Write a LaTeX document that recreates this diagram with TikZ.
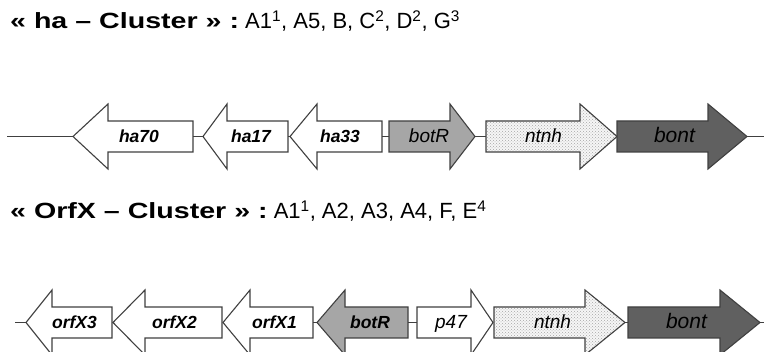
\documentclass[tikz,border=0pt]{standalone}
\usepackage{fontspec}
\setmainfont{Liberation Sans}
\usetikzlibrary{patterns}
\definecolor{outl}{RGB}{64,64,64}
\definecolor{botrgray}{RGB}{166,166,166}
\definecolor{bontgray}{RGB}{96,96,96}
\definecolor{ntnhbg}{RGB}{246,246,246}
\tikzset{
  gene/.style={draw=outl, line width=1.1pt, line join=miter},
  plaingene/.style={gene, fill=white},
  regulgene/.style={gene, fill=botrgray},
  toxingene/.style={gene, fill=bontgray},
  dotgene/.style={gene, preaction={fill=ntnhbg}, pattern=crosshatch dots, pattern color=gray!70},
  link/.style={draw=outl, line width=1.1pt},
  lab/.style={anchor=base, inner sep=0pt, font=\fontsize{19}{19}\selectfont\itshape},
  labb/.style={anchor=base, inner sep=0pt, font=\fontsize{17.5}{17.5}\selectfont\bfseries\itshape},
  labbig/.style={anchor=base, inner sep=0pt, font=\fontsize{21}{21}\selectfont\itshape},
  titletext/.style={anchor=base west, inner sep=0pt, font=\fontsize{22}{22}\selectfont},
}
\newcommand\boldhead[1]{\scalebox{1.3}[1]{\bfseries #1}}
% leftward gene: name, tip x, head base x, right x, centre y, style, label style, label x, text
\newcommand\geneLeft[9]{%
  \draw[#6] (#2,#5) -- (#3,{#5-32.5}) -- (#3,{#5-15.5}) -- (#4,{#5-15.5})
    -- (#4,{#5+15.5}) -- (#3,{#5+15.5}) -- (#3,{#5+32.5}) -- cycle;
  \coordinate (#1-l) at (#2,#5);
  \coordinate (#1-r) at (#4,#5);
  \node[#7] (#1) at (#8,{#5+6}) {#9};
}
% rightward gene: name, left x, head base x, tip x, centre y, style, label style, label x, text
\newcommand\geneRight[9]{%
  \draw[#6] (#2,{#5-15.5}) -- (#3,{#5-15.5}) -- (#3,{#5-32.5}) -- (#4,#5)
    -- (#3,{#5+32.5}) -- (#3,{#5+15.5}) -- (#2,{#5+15.5}) -- cycle;
  \coordinate (#1-l) at (#2,#5);
  \coordinate (#1-r) at (#4,#5);
  \node[#7] (#1) at (#8,{#5+6}) {#9};
}
\begin{document}
\begin{tikzpicture}[x=1pt,y=-1pt]
\useasboundingbox (0,0) rectangle (764,352);
\clip (0,0) rectangle (764,352);

\node[titletext] (title1) at (10,29) {\boldhead{« ha – Cluster » :} A1\textsuperscript{1}, A5, B, C\textsuperscript{2}, D\textsuperscript{2}, G\textsuperscript{3}};
\node[titletext] (title2) at (10,219) {\boldhead{« OrfX – Cluster » :} A1\textsuperscript{1}, A2, A3, A4, F, E\textsuperscript{4}};

% ---- top row
\coordinate (a-start) at (7,136.5);
\coordinate (a-end) at (764,136.5);
\geneLeft{ha70}{73}{108}{193}{136.5}{plaingene}{labb}{139}{ha70}
\geneLeft{ha17}{203}{227}{288}{136.5}{plaingene}{labb}{251}{ha17}
\geneLeft{ha33}{290}{317}{382}{136.5}{plaingene}{labb}{340}{ha33}
\geneRight{botRa}{389}{450}{475}{136.5}{regulgene}{lab}{429}{botR}
\geneRight{ntnha}{486}{580}{617}{136.5}{dotgene}{lab}{543.5}{ntnh}
\geneRight{bonta}{617}{708}{747}{136.5}{toxingene}{labbig}{674.5}{bont}
\draw[link] (a-start) -- (ha70-l);
\draw[link] (ha70-r) -- (ha17-l);
\draw[link] (ha17-r) -- (ha33-l);
\draw[link] (ha33-r) -- (botRa-l);
\draw[link] (botRa-r) -- (ntnha-l);
\draw[link] (bonta-r) -- (a-end);

% ---- bottom row
\coordinate (b-start) at (15,322.5);
\coordinate (b-end) at (764,322.5);
\geneLeft{orfX3}{26}{52}{112}{322.5}{plaingene}{labb}{74.5}{orfX3}
\geneLeft{orfX2}{113}{145}{222}{322.5}{plaingene}{labb}{174.5}{orfX2}
\geneLeft{orfX1}{223}{250}{313}{322.5}{plaingene}{labb}{274.5}{orfX1}
\geneLeft{botRb}{317}{345}{408}{322.5}{regulgene}{labb}{370}{botR}
\geneRight{p47}{417}{471}{493}{322.5}{plaingene}{lab}{451}{p47}
\geneRight{ntnhb}{494}{585}{625}{322.5}{dotgene}{lab}{552.5}{ntnh}
\geneRight{bontb}{628}{720}{760}{322.5}{toxingene}{labbig}{686.5}{bont}
\draw[link] (b-start) -- (orfX3-l);
\draw[link] (orfX1-r) -- (botRb-l);
\draw[link] (botRb-r) -- (p47-l);
\draw[link] (ntnhb-r) -- (bontb-l);
\draw[link] (bontb-r) -- (b-end);
\end{tikzpicture}
\end{document}
